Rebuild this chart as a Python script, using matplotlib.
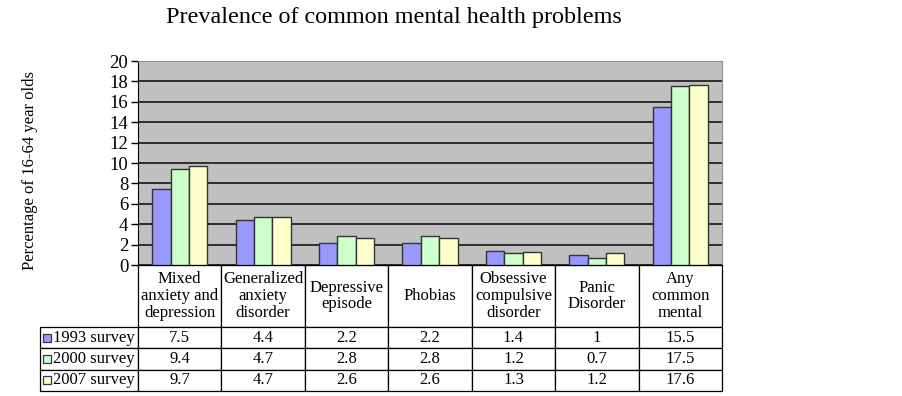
import matplotlib
matplotlib.use("Agg")
import matplotlib.pyplot as plt
import numpy as np
from matplotlib.patches import Rectangle

plt.rcParams['font.family'] = ['Liberation Serif', 'DejaVu Serif']

categories = ["Mixed\nanxiety and\ndepression", "Generalized\nanxiety\ndisorder",
              "Depressive\nepisode", "Phobias", "Obsessive\ncompulsive\ndisorder",
              "Panic\nDisorder", "Any\ncommon\nmental"]
series_names = ["1993 survey", "2000 survey", "2007 survey"]
s1993 = [7.5, 4.4, 2.2, 2.2, 1.4, 1, 15.5]
s2000 = [9.4, 4.7, 2.8, 2.8, 1.2, 0.7, 17.5]
s2007 = [9.7, 4.7, 2.6, 2.6, 1.3, 1.2, 17.6]
colors = ["#9999FF", "#CCFFCC", "#FFFFCC"]

fig = plt.figure(figsize=(9.03, 3.96), dpi=100)
W, H = 903, 396
# plot area in pixels
px0, px1, py0, py1 = 138, 722, 61, 265
ax = fig.add_axes([px0 / W, 1 - py1 / H, (px1 - px0) / W, (py1 - py0) / H])
ax.set_facecolor("#C0C0C0")

x = np.arange(len(categories))
bw = 0.22
for i, (vals, c) in enumerate(zip([s1993, s2000, s2007], colors)):
    ax.bar(x + (i - 1) * bw, vals, bw, color=c, edgecolor="#333333", linewidth=1, zorder=3)

ax.set_xlim(-0.5, len(categories) - 0.5)
ax.set_ylim(0, 20)
ax.set_yticks(np.arange(0, 21, 2))
ax.yaxis.grid(True, color="#222222", linewidth=1.3, zorder=1)
ax.set_axisbelow(True)
ax.set_xticks([])
ax.tick_params(axis="y", labelsize=13.5, length=5, width=1, pad=2, colors="black")
for s in ["top", "right"]:
    ax.spines[s].set_color("#909090")
ax.spines["left"].set_color("black")
ax.spines["bottom"].set_color("black")

fig.text(30 / W, 1 - 170 / H, "Percentage of 16-64 year olds", fontsize=12,
         rotation=90, ha="center", va="center")
fig.text(394 / W, 1 - 18 / H, "Prevalence of common mental health problems",
         fontsize=17.4, ha="center", va="center")

# table under the plot
ph = py1 - py0
pw = px1 - px0
tx0 = 40
head_h, row_h = 62, 21.3
rows = [[""] + categories]
for name, vals in zip(series_names, [s1993, s2000, s2007]):
    rows.append([name] + [f"{v:g}" for v in vals])
total_h = head_h + 3 * row_h
tbl = ax.table(cellText=rows, cellLoc="center",
               bbox=[(tx0 - px0) / pw, -total_h / ph, (px1 - tx0) / pw, total_h / ph])
tbl.auto_set_font_size(False)
tbl.set_fontsize(12)
colw = [px0 - tx0] + [pw / len(categories)] * len(categories)
for (r, c), cell in tbl.get_celld().items():
    cell.set_width(colw[c])
    cell.set_height(head_h if r == 0 else row_h)
    cell.set_edgecolor("black")
    cell.set_linewidth(0.9)
    cell.get_text().set_linespacing(1.05)
    if r == 0 and c == 0:
        cell.visible_edges = ""
    if c == 0 and r > 0:
        cell.get_text().set_ha("left")
        cell.PAD = 0.13

# legend swatches
for i, c in enumerate(colors):
    yc = py1 + head_h + (i + 0.5) * row_h
    sz = 8
    ax.add_patch(Rectangle(((43 - px0) / pw, -(yc - py1 + sz / 2) / ph), sz / pw, sz / ph,
                           transform=ax.transAxes, facecolor=c, edgecolor="#333366",
                           linewidth=0.9, clip_on=False))

fig.savefig("out.png", dpi=100)
